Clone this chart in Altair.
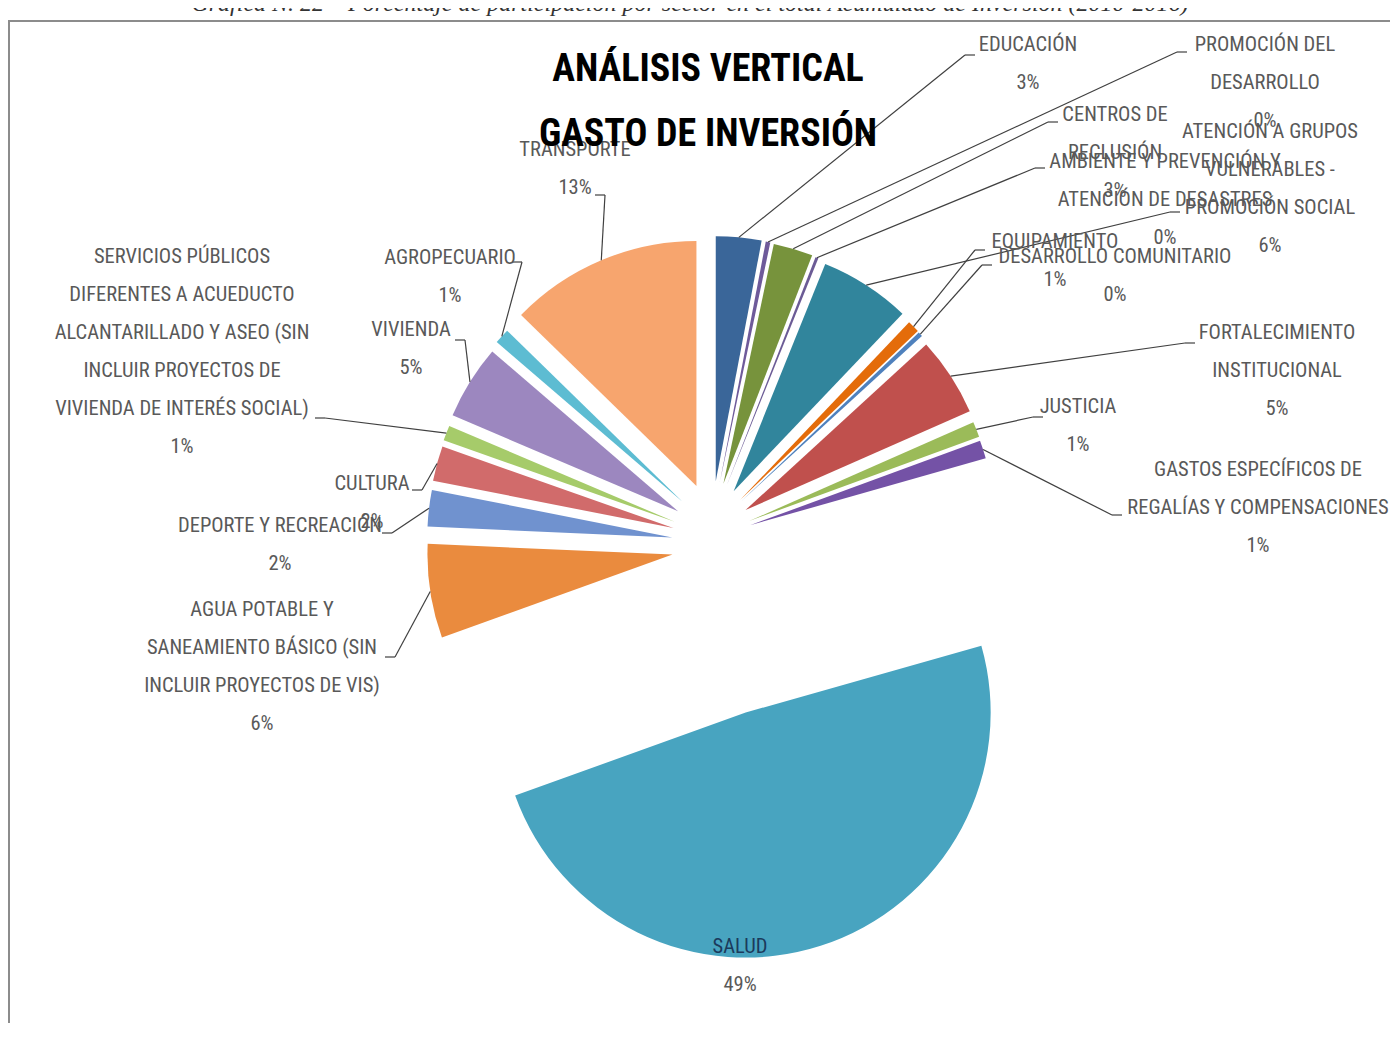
import altair as alt
import pandas as pd

# ---------------- data ----------------
sectors = [
    "EDUCACIÓN",
    "PROMOCIÓN DEL DESARROLLO",
    "CENTROS DE RECLUSIÓN",
    "AMBIENTE Y PREVENCIÓN Y ATENCIÓN DE DESASTRES",
    "ATENCIÓN A GRUPOS VULNERABLES - PROMOCIÓN SOCIAL",
    "EQUIPAMIENTO",
    "DESARROLLO COMUNITARIO",
    "FORTALECIMIENTO INSTITUCIONAL",
    "JUSTICIA",
    "GASTOS ESPECÍFICOS DE REGALÍAS Y COMPENSACIONES",
    "SALUD",
    "AGUA POTABLE Y SANEAMIENTO BÁSICO (SIN INCLUIR PROYECTOS DE VIS)",
    "DEPORTE Y RECREACIÓN",
    "CULTURA",
    "SERVICIOS PÚBLICOS DIFERENTES A ACUEDUCTO ALCANTARILLADO Y ASEO",
    "VIVIENDA",
    "AGROPECUARIO",
    "TRANSPORTE",
]
shares = [3.0, 0.3, 2.6, 0.2, 6.0, 0.8, 0.3, 5.2, 1.0, 1.2,
          48.9, 6.2, 2.4, 2.3, 1.0, 4.9, 1.0, 12.7]
label_lines = [
    ["EDUCACIÓN"],
    ["PROMOCIÓN DEL", "DESARROLLO"],
    ["CENTROS DE", "RECLUSIÓN"],
    ["AMBIENTE Y PREVENCIÓN Y", "ATENCIÓN DE DESASTRES"],
    ["ATENCIÓN A GRUPOS", "VULNERABLES -", "PROMOCIÓN SOCIAL"],
    ["EQUIPAMIENTO"],
    ["DESARROLLO COMUNITARIO"],
    ["FORTALECIMIENTO", "INSTITUCIONAL"],
    ["JUSTICIA"],
    ["GASTOS ESPECÍFICOS DE", "REGALÍAS Y COMPENSACIONES"],
    ["SALUD"],
    ["AGUA POTABLE Y", "SANEAMIENTO BÁSICO  (SIN", "INCLUIR PROYECTOS DE VIS)"],
    ["DEPORTE Y RECREACIÓN"],
    ["CULTURA"],
    ["SERVICIOS PÚBLICOS", "DIFERENTES A ACUEDUCTO", "ALCANTARILLADO Y ASEO (SIN",
     "INCLUIR PROYECTOS DE", "VIVIENDA DE INTERÉS SOCIAL)"],
    ["VIVIENDA"],
    ["AGROPECUARIO"],
    ["TRANSPORTE"],
]
title_lines = ["ANÁLISIS VERTICAL", "GASTO DE INVERSIÓN"]
caption = ("Gráfica N. 22 – Porcentaje de participación por sector en el total "
           "Acumulado de Inversión (2010-2016)")

# ---------------- styles / layout ----------------
colors = ["#3A6699", "#6E5A9A", "#77933C", "#6B5B95", "#31859C", "#E46C0A",
          "#4F81BD", "#C0504D", "#9BBB59", "#7452A6", "#48A4C0", "#EA8B3E",
          "#7092CF", "#D16B6B", "#A6CB6A", "#9C87BF", "#5DBCD2", "#F7A56E"]

OFF = 8                      # page margin
W, H = 1382, 1015
CX, CY = 712 - OFF, 545 - OFF
R = 245
EXPLODE = 40
EXPLODE_SALUD = 110
YSTRETCH = 1.6
LINE_H = 38
FONT = "Liberation Sans Narrow, Arial Narrow, Roboto Condensed, Liberation Sans, sans-serif"
LABEL_COLOR = "#595959"

# label block: centre x, centre y of first line (page px)
label_pos = [
    (1028, 45), (1265, 45), (1115, 115), (1165, 162), (1270, 132),
    (1055, 242), (1115, 257), (1277, 333), (1078, 407), (1258, 470),
    (740, 947), (262, 610), (280, 526), (372, 484), (182, 257),
    (411, 330), (450, 258), (575, 150),
]
# leader corner point (page px) and direction of the short tail towards the text
leader_pos = [
    (965, 55, 1), (1177, 52, 1), (1048, 122, 1), (1035, 168, 1), (1170, 212, 1),
    (975, 250, 1), (982, 265, 1), (1185, 343, 1), (1033, 417, 1), (1112, 515, 1),
    None, (395, 657, -1), (392, 533, -1), (422, 490, -1), (325, 418, -1),
    (465, 340, -1), (522, 262, -1), (605, 195, -1),
]

# ---------------- tables ----------------
pie_rows = []
for i, s in enumerate(sectors):
    lp = leader_pos[i]
    pie_rows.append(dict(
        idx=i, sector=s, share=shares[i],
        has_leader=lp is not None,
        kx=(lp[0] - OFF) if lp else 0,
        ky=(lp[1] - OFF) if lp else 0,
        tx=(lp[0] - OFF + 10 * lp[2]) if lp else 0,
    ))
pie_df = pd.DataFrame(pie_rows)

text_rows = []
for i, s in enumerate(sectors):
    lx, ly = label_pos[i]
    lines = label_lines[i] + [f"{round(shares[i])}%"]
    for j, ln in enumerate(lines):
        text_rows.append(dict(
            x=lx - OFF, y=ly - OFF + j * LINE_H, text=ln,
            tc="#1B3A5C" if (s == "SALUD" and j == 0) else LABEL_COLOR,
        ))
text_df = pd.DataFrame(text_rows)

title_df = pd.DataFrame(dict(text=title_lines, x=[708 - OFF] * 2,
                             y=[70 - OFF, 135 - OFF]))

# ---------------- chart ----------------
base = alt.Chart(pie_df).transform_window(
    cum="sum(share)", sort=[alt.SortField("idx", order="ascending")], frame=[None, 0]
).transform_joinaggregate(
    total="sum(share)"
).transform_calculate(
    t0="2*PI*(datum.cum - datum.share)/datum.total",
    t1="2*PI*datum.cum/datum.total",
    mid="(datum.t0 + datum.t1)/2",
    ex=f"datum.sector === 'SALUD' ? {EXPLODE_SALUD} : {EXPLODE}",
    px=f"{CX} + datum.ex*sin(datum.mid)",
    py=f"{CY} - datum.ex*cos(datum.mid)*{YSTRETCH}",
    ox=f"datum.px + {R}*sin(datum.mid)",
    oy=f"datum.py - {R}*cos(datum.mid)",
)

frame = alt.Chart(pie_df).mark_rect(
    fill="transparent", stroke="#8C8C8C", strokeWidth=2
).encode(
    x=alt.value(1), x2=alt.value(W + 40), y=alt.value(13), y2=alt.value(H + 40)
).transform_filter("datum.idx == 0")

cap = alt.Chart(pie_df).mark_text(
    font="Liberation Serif, DejaVu Serif, serif", fontStyle="italic", fontSize=24,
    baseline="alphabetic", align="center", color="#333333", text=caption
).encode(x=alt.value(690 - OFF), y=alt.value(3)).transform_filter("datum.idx == 0")

pie = base.mark_arc(outerRadius=R).encode(
    theta=alt.Theta("t0:Q", scale=None),
    theta2=alt.Theta2("t1:Q"),
    x=alt.X("px:Q", scale=None),
    y=alt.Y("py:Q", scale=None),
    color=alt.Color("sector:N", scale=alt.Scale(domain=sectors, range=colors), legend=None),
)

leaders = base.transform_filter("datum.has_leader").mark_rule(
    color="#404040", strokeWidth=1.2
).encode(
    x=alt.X("kx:Q", scale=None), y=alt.Y("ky:Q", scale=None),
    x2=alt.X2("ox:Q"), y2=alt.Y2("oy:Q"),
)

tails = base.transform_filter("datum.has_leader").mark_rule(
    color="#404040", strokeWidth=1.2
).encode(
    x=alt.X("kx:Q", scale=None), y=alt.Y("ky:Q", scale=None),
    x2=alt.X2("tx:Q"), y2=alt.Y2("ky:Q"),
)

labels = alt.Chart(text_df).mark_text(
    font=FONT, fontSize=20.5, baseline="middle", align="center"
).encode(
    x=alt.X("x:Q", scale=None), y=alt.Y("y:Q", scale=None),
    text="text:N", color=alt.Color("tc:N", scale=None),
)

titles = alt.Chart(title_df).mark_text(
    font=FONT, fontSize=38, fontWeight="bold", baseline="middle",
    align="center", color="#000000"
).encode(
    x=alt.X("x:Q", scale=None), y=alt.Y("y:Q", scale=None), text="text:N",
)

chart = alt.layer(frame, cap, pie, leaders, tails, labels, titles).properties(
    width=W, height=H, padding=0, autosize="none"
).configure_view(stroke=None)

chart.save("out.html", embed_options={"renderer": "svg", "actions": False})
